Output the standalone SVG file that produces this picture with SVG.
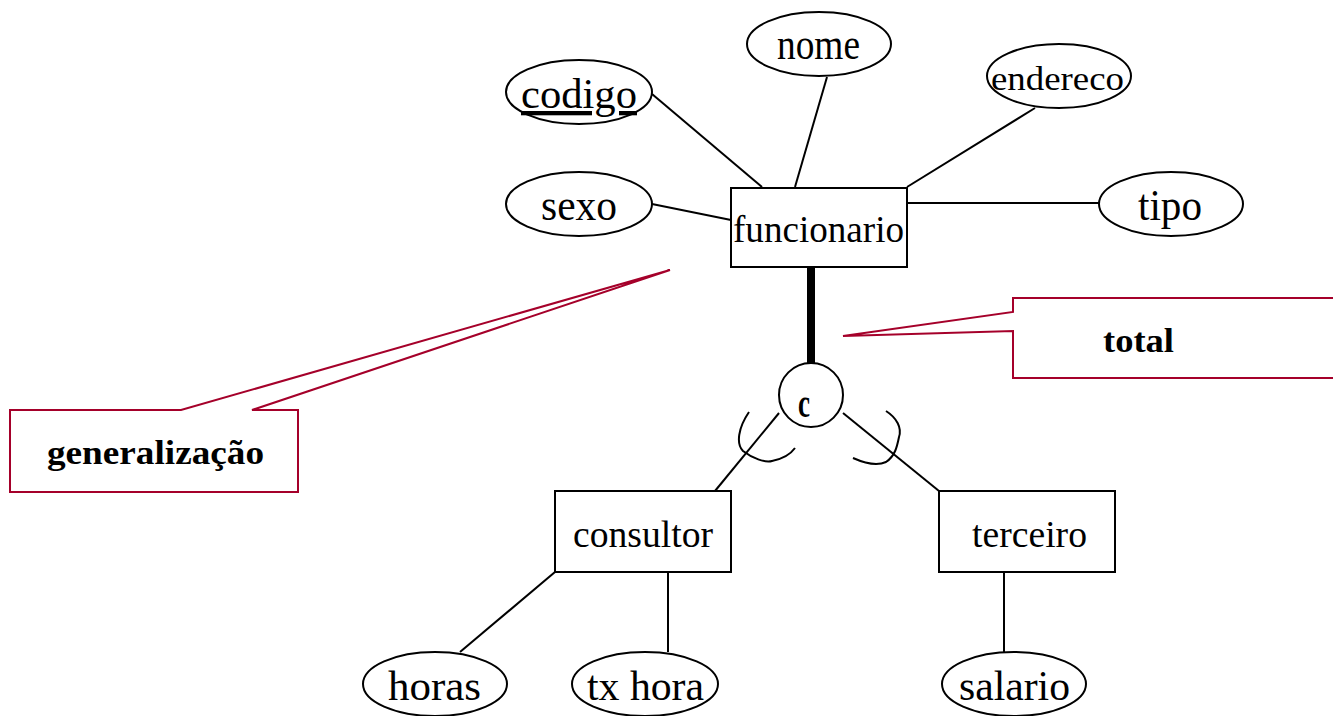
<svg xmlns="http://www.w3.org/2000/svg" width="1333" height="716" viewBox="0 0 1333 716">
<style>
.e{fill:#fff;stroke:#000;stroke-width:2}
.r{fill:#fff;stroke:#000;stroke-width:2}
.l{stroke:#000;stroke-width:2;fill:none}
.t{font-family:"Liberation Serif","Times New Roman",serif;fill:#000}
.b{font-family:"Liberation Serif","Times New Roman",serif;font-weight:bold;fill:#000}
.c{fill:#fff;stroke:#A5002A;stroke-width:2}
</style>
<rect width="1333" height="716" fill="#fff"/>
<g id="connectors">
<line class="l" x1="652" y1="94" x2="762" y2="187"/>
<line class="l" x1="827" y1="77" x2="795" y2="187"/>
<line class="l" x1="1035" y1="108" x2="907" y2="187"/>
<line class="l" x1="652" y1="204" x2="731" y2="220"/>
<line class="l" x1="907" y1="203" x2="1099" y2="203"/>
<line stroke="#000" stroke-width="8" x1="811" y1="267" x2="811" y2="364"/>
<line class="l" x1="779" y1="413" x2="715" y2="491"/>
<line class="l" x1="843" y1="413" x2="939" y2="491"/>
<path class="l" d="M749,412 C738,428 736,444 743,451 C752,458 765,463 772,461 C782,459 790,455 795,448"/>
<path class="l" d="M886,411 C897,418 902,428 899,437 C897,447 895,456 886,462 C875,467 862,462 853,458"/>
<line class="l" x1="555" y1="572" x2="460" y2="652"/>
<line class="l" x1="668" y1="572" x2="668" y2="652"/>
<line class="l" x1="1004" y1="572" x2="1004" y2="652"/>
</g>
<g id="codigo"><ellipse class="e" cx="579" cy="92" rx="73" ry="32"/><text class="t" x="521" y="108" font-size="43" textLength="116" lengthAdjust="spacingAndGlyphs" text-decoration="underline">codigo</text></g>
<g id="nome"><ellipse class="e" cx="819" cy="44" rx="72" ry="32"/><text class="t" x="777" y="59" font-size="44" textLength="83" lengthAdjust="spacingAndGlyphs">nome</text></g>
<g id="endereco"><ellipse class="e" cx="1059" cy="76" rx="72" ry="32"/><text class="t" x="991" y="90" font-size="34" textLength="133" lengthAdjust="spacingAndGlyphs">endereco</text></g>
<g id="sexo"><ellipse class="e" cx="579" cy="204" rx="73" ry="32"/><text class="t" x="541" y="220" font-size="44" textLength="76" lengthAdjust="spacingAndGlyphs">sexo</text></g>
<g id="tipo"><ellipse class="e" cx="1171" cy="204" rx="72" ry="32"/><text class="t" x="1138" y="220" font-size="44" textLength="64" lengthAdjust="spacingAndGlyphs">tipo</text></g>
<g id="funcionario"><rect class="r" x="731" y="188" width="176" height="79"/><text class="t" x="733" y="242" font-size="38" textLength="171" lengthAdjust="spacingAndGlyphs">funcionario</text></g>
<g id="especializacao"><circle class="e" cx="811" cy="395" r="32"/><text class="b" x="798" y="417" font-size="39" textLength="12" lengthAdjust="spacingAndGlyphs">c</text></g>
<g id="consultor"><rect class="r" x="555" y="491" width="176" height="81"/><text class="t" x="573" y="547" font-size="37" textLength="140" lengthAdjust="spacingAndGlyphs">consultor</text></g>
<g id="terceiro"><rect class="r" x="939" y="491" width="176" height="81"/><text class="t" x="972" y="547" font-size="37" textLength="115" lengthAdjust="spacingAndGlyphs">terceiro</text></g>
<g id="horas"><ellipse class="e" cx="435" cy="684" rx="72" ry="32"/><text class="t" x="388" y="700" font-size="42" textLength="93" lengthAdjust="spacingAndGlyphs">horas</text></g>
<g id="txhora"><ellipse class="e" cx="645" cy="684" rx="73" ry="32"/><text class="t" x="587" y="700" font-size="42" textLength="117" lengthAdjust="spacingAndGlyphs">tx hora</text></g>
<g id="salario"><ellipse class="e" cx="1014" cy="684" rx="72" ry="32"/><text class="t" x="959" y="700" font-size="42" textLength="111" lengthAdjust="spacingAndGlyphs">salario</text></g>
<g id="callout-generalizacao"><path class="c" d="M10,410 L181,410 L670,270 L252,410 L298,410 L298,492 L10,492 Z"/><text class="b" x="47" y="464" font-size="33" textLength="217" lengthAdjust="spacingAndGlyphs">generalização</text></g>
<g id="callout-total"><path class="c" d="M1013,312 L1013,298 L1345,298 L1345,378 L1013,378 L1013,331 L843,336 Z"/><text class="b" x="1103" y="352" font-size="34" textLength="71" lengthAdjust="spacingAndGlyphs">total</text></g>
</svg>
